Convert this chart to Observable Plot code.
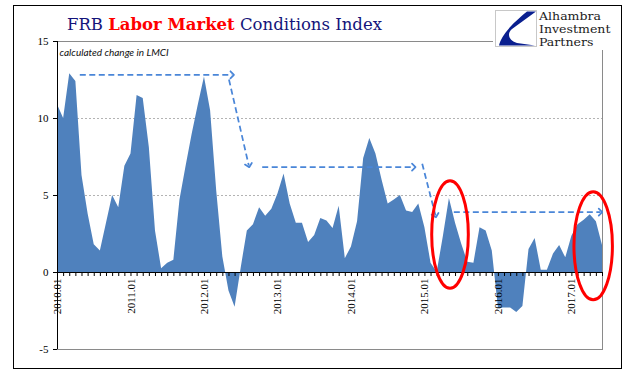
<!DOCTYPE html>
<html>
<head>
<meta charset="utf-8">
<script src="https://cdn.jsdelivr.net/npm/d3@7"></script>
<script src="https://cdn.jsdelivr.net/npm/@observablehq/plot@0.6"></script>
<style>
  html, body { margin: 0; padding: 0; background: #fff; }
  #wrap { position: relative; width: 641px; height: 375px; overflow: hidden; background: #fff; }
  #border { position: absolute; left: 13px; top: 5px; width: 609px; height: 364px; box-sizing: border-box; border: 1.5px solid #000; pointer-events: none; }
  #title { position: absolute; left: 67px; top: 15px; font-family: "DejaVu Serif", serif; font-size: 16.5px; line-height: 20px; color: #14147a; white-space: nowrap; }
  #title b { color: #ff0000; }
  #logo { position: absolute; left: 493px; top: 8px; width: 127px; height: 42px; background: #fff; }
  #logo svg { position: absolute; left: 2px; top: 2px; }
  #logo .txt { position: absolute; left: 46px; top: 2px; font-family: "DejaVu Serif", serif; font-size: 11px; line-height: 13px; color: #1a1a1a; transform: scaleX(1.14); transform-origin: 0 0; white-space: nowrap; }
  #logo .txt div { height: 13px; }
</style>
</head>
<body>
<div id="wrap">
  <div id="chart"></div>
  <div id="border"></div>
  <div id="title">FRB <b>Labor Market</b> Conditions Index</div>
  <div id="logo">
    <svg width="42" height="37" viewBox="0 0 42 37">
      <rect x="0.5" y="0.5" width="41" height="36" fill="#fff" stroke="#c8c8c8"/>
      <path d="M32,1.5 L41,1.5 L17,19 C12,23 13,30 22,33 L40,35.5 L4,35.5 C6,27 13,17 32,1.5 Z" fill="#0a1f8f"/>
    </svg>
    <div class="txt"><div>Alhambra</div><div>Investment</div><div>Partners</div></div>
  </div>
</div>
<script>
// Monthly values, 2010.01 .. 2017.06 (calculated change in LMCI)
const startLabel = "2010.01";
const values = [
  10.9, 10.0, 12.9, 12.4, 6.3, 3.8, 1.8, 1.4, 3.2, 5.0, 4.2, 6.9,
  7.7, 11.5, 11.3, 8.1, 2.7, 0.25, 0.6, 0.8, 4.7, 6.9, 9.0, 10.9,
  12.7, 10.5, 5.3, 1.0, -1.2, -2.25, 0.3, 2.7, 3.1, 4.2, 3.65, 4.1,
  5.1, 6.4, 4.45, 3.2, 3.2, 1.95, 2.4, 3.5, 3.35, 2.85, 4.3, 0.9,
  1.65, 3.3, 7.4, 8.7, 7.7, 6.0, 4.45, 4.7, 5.0, 4.0, 3.9, 4.45,
  2.9, 0.6, 0.0, 2.3, 4.8, 3.2, 1.85, 0.67, 0.6, 2.9, 2.7, 1.4,
  -2.3, -2.3, -2.3, -2.6, -2.2, 1.5, 2.2, 0.15, 0.15, 1.2, 1.75, 0.95,
  2.35, 3.1, 3.4, 3.75, 3.3, 1.75
];
const tickLabels = ["2010.01", "2011.01", "2012.01", "2013.01", "2014.01", "2015.01", "2016.01", "2017.01"];
const yTicks = [-5, 0, 5, 10, 15];
const gridValues = [5, 10];
const subtitle = "calculated change in LMCI";

// Annotations (month index, value)
const arrowStartX = [3.64, 28.0, 33.43, 59.56, 64.72];
const arrowStartY = [12.84, 12.53, 6.84, 7.06, 3.92];
const arrowEndX   = [28.53, 31.24, 58.18, 61.73, 88.67];
const arrowEndY   = [12.84, 6.95, 6.84, 3.70, 3.92];
const ellipseCX = [64.18, 87.56];
const ellipseCY = [2.44, 1.70];
const ellipseRX = [2.99, 3.14];
const ellipseRY = [3.49, 3.51];

const data = values.map((v, i) => ({i, v}));
const months = values.map((v, i) => i);
const labelRows = tickLabels.map((t, k) => ({t, i: k * 12}));
const arrows = arrowStartX.map((x1, k) => ({x1, y1: arrowStartY[k], x2: arrowEndX[k], y2: arrowEndY[k]}));

const plot = Plot.plot({
  width: 641,
  height: 375,
  marginLeft: 57,
  marginRight: 39,
  marginTop: 41,
  marginBottom: 26,
  style: {fontFamily: "Liberation Serif", fontSize: "11px", background: "transparent", color: "#000", overflow: "visible"},
  x: {domain: [0, values.length - 1], axis: null},
  y: {domain: [-5, 15], ticks: yTicks, tickSize: 4, tickPadding: 5, tickFormat: d => String(d), label: null},
  marks: [
    Plot.ruleY(gridValues, {stroke: "#a0a0a0", strokeWidth: 0.8, strokeDasharray: "2,2"}),
    Plot.areaY(data, {x: "i", y: "v", fill: "#4f81bd"}),
    Plot.frame({stroke: "#8a8a8a"}),
    Plot.ruleY([0], {stroke: "#000", strokeWidth: 1}),
    Plot.ruleX(months, {x: d => d, y1: 0, y2: 0, insetBottom: -4, stroke: "#000", strokeWidth: 1}),
    Plot.ruleX([0], {stroke: "#000", strokeWidth: 1}),
    Plot.text(labelRows, {x: "i", y: 0, text: "t", rotate: -90, textAnchor: "end", lineAnchor: "middle", dy: 6, fontSize: 11, fill: "#000"}),
    Plot.text([subtitle], {frameAnchor: "top-left", dx: 2, dy: 11, lineAnchor: "middle", fontStyle: "italic", fontFamily: "Lato", fontSize: 10, fill: "#111"}),
    Plot.link(arrows, {x1: "x1", y1: "y1", x2: "x2", y2: "y2", stroke: "#4a86d8", strokeWidth: 1.75, strokeDasharray: "6,3.5", markerEnd: "arrow"})
  ]
});
document.getElementById("chart").appendChild(plot);

const svg = d3.select(plot);
// solid arrowheads
svg.selectAll("marker").attr("stroke-dasharray", "none").style("stroke-dasharray", "none");
svg.selectAll("marker path").attr("stroke-dasharray", "none");

// red ellipses in data coordinates
const sx = plot.scale("x"), sy = plot.scale("y");
const g = svg.append("g").attr("fill", "none").attr("stroke", "#ff0000").attr("stroke-width", 3);
ellipseCX.forEach((cx, k) => {
  const px = sx.apply(cx), py = sy.apply(ellipseCY[k]);
  const rx = Math.abs(sx.apply(cx + ellipseRX[k]) - px);
  const ry = Math.abs(sy.apply(ellipseCY[k] + ellipseRY[k]) - py);
  g.append("ellipse").attr("cx", px).attr("cy", py).attr("rx", rx).attr("ry", ry);
});
</script>
</body>
</html>
